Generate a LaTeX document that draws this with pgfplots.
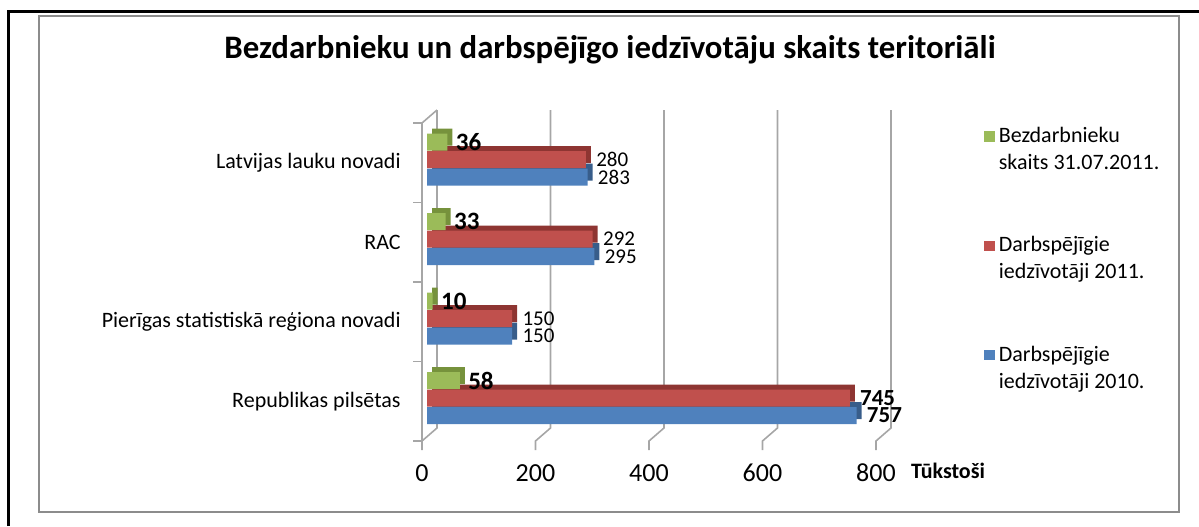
\documentclass[border=0pt]{standalone}
\usepackage{fontspec}
\setmainfont{Carlito}
\usepackage{pgfplots}
\usepackage{pgfplotstable}
\pgfplotsset{compat=1.18}
\definecolor{gC}{HTML}{9BBB59}
\definecolor{gD}{HTML}{76923C}
\definecolor{rC}{HTML}{C0504D}
\definecolor{rD}{HTML}{8E3532}
\definecolor{bC}{HTML}{4F81BD}
\definecolor{bD}{HTML}{385D8A}
\definecolor{gridc}{HTML}{A6A6A6}
\definecolor{framec}{HTML}{8C8C8C}
\pgfplotstableread{
cat green red blue
0 58 745 757
1 10 150 150
2 33 292 295
3 36 280 283
}\data
\begin{document}
\begin{tikzpicture}
\path[use as bounding box] (0,0) rectangle (599.5pt,263pt);
\draw[line width=1.5pt] (4pt,0) -- (4pt,257pt) -- (599.5pt,257pt);
\draw[framec, line width=1.1pt] (19.5pt,7pt) rectangle (589.5pt,255pt);
\node[font=\bfseries\fontsize{16.4}{18}\selectfont] at (305pt,238pt) {Bezdarbnieku un darbspējīgo iedzīvotāju skaits teritoriāli};
\begin{axis}[
  at={(211pt,42.5pt)}, anchor=south west,
  scale only axis, width=227pt, height=159pt,
  xmin=0, xmax=800, ymin=-0.5, ymax=3.5,
  clip=false,
  axis line style={draw=none},
  /pgf/number format/assume math mode=true,
  xtick={0,200,400,600,800},
  xticklabels={0,200,400,600,800},
  xtick style={draw=none},
  x tick label style={font=\fontsize{13}{15}\selectfont, anchor=center, inner sep=0pt, yshift=-16pt},
  ytick={0,1,2,3},
  yticklabels={Republikas pilsētas, Pierīgas statistiskā reģiona novadi, RAC, Latvijas lauku novadi\hspace{2pt}},
  ytick style={draw=none},
  y tick label style={font=\fontsize{11}{13}\selectfont, anchor=east, inner sep=0pt, xshift=-10.5pt},
  xlabel={Tūkstoši},
  xlabel style={at={(axis cs:800,-0.5)}, anchor=center, font=\bfseries\fontsize{11}{13}\selectfont, xshift=36pt, yshift=-15pt},
  reverse legend,
  legend style={draw=none, fill=none, at={(rel axis cs:1,1)}, anchor=north west, xshift=54pt, yshift=0pt,
    font=\fontsize{11}{13.5}\selectfont, cells={align=left}, row sep=28pt, inner sep=0pt},
  legend cell align=left,
]
\pgfplotsinvokeforeach{0,200,400,600,800}{
  \draw[gridc, line width=0.8pt] ([xshift=7.5pt,yshift=6.5pt]axis cs:#1,3.5) -- ([xshift=7.5pt,yshift=6.5pt]axis cs:#1,-0.5) -- (axis cs:#1,-0.5) -- ([yshift=-4.5pt]axis cs:#1,-0.5);
}
\draw[gridc, line width=0.8pt] ([xshift=7.5pt,yshift=6.5pt]axis cs:0,3.5) -- (axis cs:0,3.5) -- (axis cs:0,-0.5);
\pgfplotsinvokeforeach{-0.5,0.5,1.5,2.5,3.5}{
  \draw[gridc, line width=0.8pt] ([xshift=-4.5pt]axis cs:0,#1) -- (axis cs:0,#1);
}
% blue 2010
\addplot[xbar, bar width=0.215, bar shift=-0.18, fill=bD, draw=none, xshift=5pt, yshift=2.5pt, forget plot] table[x=blue,y=cat]{\data};
\addplot[xbar, bar width=0.215, bar shift=-0.18, fill=bC, draw=none, xshift=2.5pt,
  legend image code/.code={\fill[bC] (0pt,4.1pt) rectangle (5.2pt,9.3pt);},
  visualization depends on={rawy \as \catv},
  nodes near coords={\ifdim\catv pt<0.5pt \bfseries\fontsize{11.5}{13}\selectfont\fi\pgfmathprintnumber{\pgfplotspointmeta}},
  every node near coord/.append style={font=\fontsize{10.5}{12}\selectfont, anchor=west, inner sep=0pt, xshift=5pt, yshift=-7.16pt, text=black}]
  table[x=blue,y=cat]{\data};
\addlegendentry{Darbspējīgie\\iedzīvotāji 2010.}
% red 2011
\addplot[xbar, bar width=0.215, bar shift=0.04, fill=rD, draw=none, xshift=5pt, yshift=2.5pt, forget plot] table[x=red,y=cat]{\data};
\addplot[xbar, bar width=0.215, bar shift=0.04, fill=rC, draw=none, xshift=2.5pt,
  legend image code/.code={\fill[rC] (0pt,4.1pt) rectangle (5.2pt,9.3pt);},
  visualization depends on={rawy \as \catv},
  nodes near coords={\ifdim\catv pt<0.5pt \bfseries\fontsize{11.5}{13}\selectfont\fi\pgfmathprintnumber{\pgfplotspointmeta}},
  every node near coord/.append style={font=\fontsize{10.5}{12}\selectfont, anchor=west, inner sep=0pt, xshift=5pt, yshift=1.59pt, text=black}]
  table[x=red,y=cat]{\data};
\addlegendentry{Darbspējīgie\\iedzīvotāji 2011.}
% green
\addplot[xbar, bar width=0.215, bar shift=0.26, fill=gD, draw=none, xshift=5pt, yshift=2.5pt, forget plot] table[x=green,y=cat]{\data};
\addplot[xbar, bar width=0.215, bar shift=0.26, fill=gC, draw=none, xshift=2.5pt,
  legend image code/.code={\fill[gC] (0pt,4.1pt) rectangle (5.2pt,9.3pt);},
  nodes near coords,
  every node near coord/.append style={font=\bfseries\fontsize{12.5}{14}\selectfont, anchor=west, inner sep=0pt, xshift=4pt, yshift=10.34pt, text=black}]
  table[x=green,y=cat]{\data};
\addlegendentry{Bezdarbnieku\\skaits 31.07.2011.}
\end{axis}
\end{tikzpicture}
\end{document}
